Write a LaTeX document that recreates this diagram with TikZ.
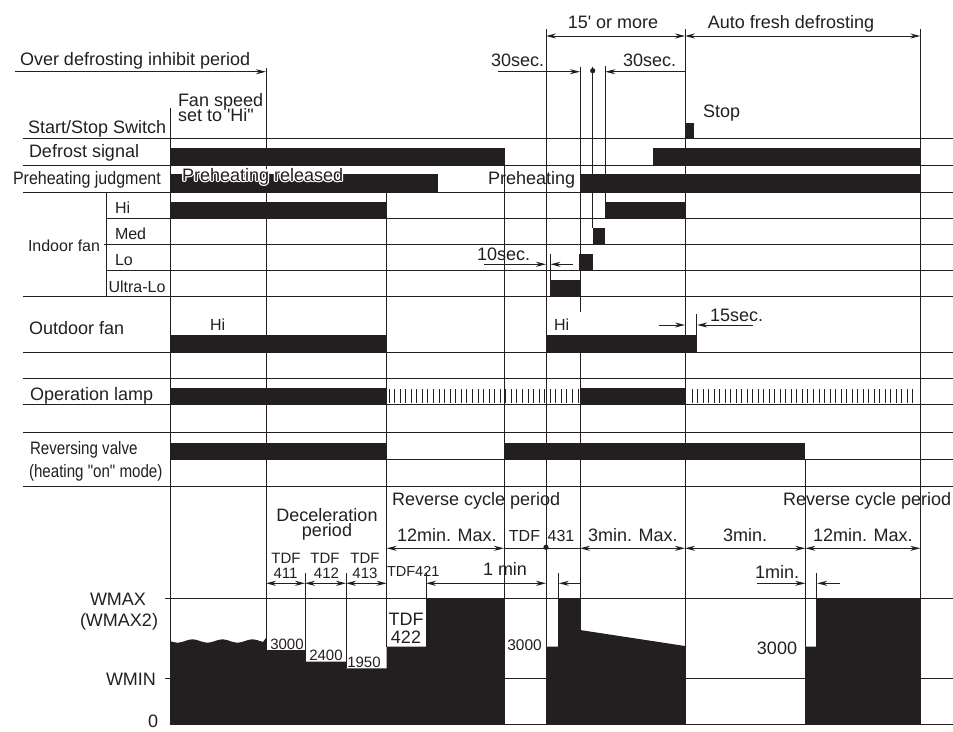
\documentclass[tikz,border=0pt]{standalone}
\usepackage{fontspec}
\setmainfont{Liberation Sans}
\usetikzlibrary{arrows.meta,calc}
\definecolor{ink}{RGB}{35,31,32}
\begin{document}
\begin{tikzpicture}[x=1pt,y=-1pt,
  every node/.style={inner sep=0pt,outer sep=0pt,text=ink},
  lbl/.style={font=\fontsize{18}{20}\selectfont,anchor=base west},
  lblc/.style={font=\fontsize{18}{20}\selectfont,anchor=base},
  sublbl/.style={font=\fontsize{16}{18}\selectfont,anchor=base west},
  numlbl/.style={font=\fontsize{15}{17}\selectfont,anchor=base},
  gline/.style={draw=ink,line width=1pt},
  sigbar/.style={fill=ink},
  arr/.style={draw=ink,line width=1pt,-{Stealth[length=10pt,width=5pt]}},
  darr/.style={draw=ink,line width=1pt,{Stealth[length=10pt,width=5pt]}-{Stealth[length=10pt,width=5pt]}},
  blink/.style={draw=ink,line width=0.9pt}
]
\useasboundingbox (0,0) rectangle (953,731);
% ---------- horizontal row lines
\foreach \y in {138.7,165,192,296.7,352,378.3,404.3,432.7,486}
  \draw[gline] (23,\y) -- (953,\y);
\foreach \y in {218.3,244.3,270.7}
  \draw[gline] (106,\y) -- (953,\y);
\draw[gline] (104,244.3) -- (106,244.3);
\draw[gline] (170,459.3) -- (953,459.3);
\draw[gline] (165,598) -- (953,598);
\draw[gline] (165,678.3) -- (953,678.3);
\draw[gline] (170,724) -- (953,724);
% ---------- vertical time lines
\draw[gline] (106,192) -- (106,296.7);
\draw[gline] (170,107.7) -- (170,724);
\draw[gline] (266,68) -- (266,650);
\draw[gline] (305,573) -- (305,662);
\draw[gline] (346,573) -- (346,668);
\draw[gline] (386.7,192) -- (386.7,647);
\draw[gline] (426,573) -- (426,598);
\draw[gline] (504.3,148.3) -- (504.3,724);
\draw[gline] (546,29) -- (546,724);
\draw[gline] (550,254) -- (550,280);
\draw[gline] (558.3,573) -- (558.3,647);
\draw[gline] (580,66.7) -- (580,312);
\draw[gline] (580,335) -- (580,724);
\draw[gline] (592.7,66.7) -- (592.7,228);
\draw[gline] (605.3,66) -- (605.3,202);
\draw[gline] (685,29) -- (685,724);
\draw[gline] (696.7,314) -- (696.7,352);
\draw[gline] (805.3,459.3) -- (805.3,724);
\draw[gline] (816.7,573) -- (816.7,647);
\draw[gline] (920.3,29) -- (920.3,724);
% ---------- signal bars
\fill[sigbar] (685,122.7) rectangle (694,139);
\fill[sigbar] (170,148.3) rectangle (504.3,165);
\fill[sigbar] (652.7,148.3) rectangle (920.3,165);
\fill[sigbar] (170,174.3) rectangle (438.3,192);
\fill[sigbar] (580,174.3) rectangle (920.3,192);
\fill[sigbar] (170,201.7) rectangle (386.7,218.3);
\fill[sigbar] (605.3,201.7) rectangle (685,218.3);
\fill[sigbar] (592.7,227.7) rectangle (605.3,244.3);
\fill[sigbar] (579.3,254) rectangle (592.7,270.7);
\fill[sigbar] (550,280) rectangle (580,296.7);
\fill[sigbar] (170,335) rectangle (386.7,352);
\fill[sigbar] (546,335) rectangle (696.7,352);
\fill[sigbar] (170,388.3) rectangle (386.7,404.3);
\fill[sigbar] (580,388.3) rectangle (685,404.3);
\fill[sigbar] (170,442.5) rectangle (386.7,459.3);
\fill[sigbar] (504.3,442.5) rectangle (805.3,459.3);
% blinking lamp
\foreach \i in {0,...,34} \draw[blink] ({389+\i*5.56},389) -- ++(0,14);
\foreach \i in {0,...,40} \draw[blink] ({692+\i*5.52},389) -- ++(0,14);
% ---------- compressor frequency profile
\fill[ink] (170,724) -- (170,641)
  -- plot[domain=170:263,samples=60] (\x,{641+1.6*sin((\x-170)*12)})
  -- (266,638) -- (266,650) -- (305,650) -- (305,661.7) -- (346,661.7) -- (346,668.3)
  -- (386.7,668.3) -- (386.7,646.7) -- (426,646.7) -- (426,598) -- (504.3,598) -- (504.3,724) -- cycle;
\fill[ink] (546,724) -- (546,646.7) -- (558.3,646.7) -- (558.3,598) -- (580,598) -- (580,630)
  -- (685,646) -- (685,724) -- cycle;
\fill[ink] (805.3,724) -- (805.3,646.7) -- (816.7,646.7) -- (816.7,598) -- (920.3,598) -- (920.3,724) -- cycle;
% ---------- dimension arrows
\draw[arr] (15,71.7) -- (266,71.7);
\draw[darr] (546,36) -- (685,36);
\draw[darr] (685,36) -- (920.3,36);
\draw[arr] (497.7,71.7) -- (580,71.7);
\draw[arr] (685,71.7) -- (605.3,71.7);
\fill[ink] (592.7,70.7) circle (2.6);
\draw[arr] (484,264.3) -- (546,264.3);
\draw[arr] (573,264.3) -- (550.5,264.3);
\draw[arr] (659,325) -- (685,325);
\draw[arr] (753,325) -- (697.2,325);
\draw[darr] (386.7,548.3) -- (504,548.3);
\draw[gline] (504.3,548.3) -- (580,548.3);
\fill[ink] (546,547.3) circle (2.6);
\draw[darr] (580,548.3) -- (685,548.3);
\draw[darr] (685,548.3) -- (805.3,548.3);
\draw[darr] (805.3,548.3) -- (920.3,548.3);
\draw[darr] (266,583.3) -- (305,583.3);
\draw[darr] (305,583.3) -- (346,583.3);
\draw[darr] (346,583.3) -- (386.7,583.3);
\draw[darr] (426,583.3) -- (546,583.3);
\draw[arr] (580,583.3) -- (558.8,583.3);
\draw[arr] (757,583.3) -- (805.3,583.3);
\draw[arr] (840,583.3) -- (817.2,583.3);
% ---------- texts
\node[lbl] (tOver) at (20,65.5) {Over defrosting inhibit period};
\node[lblc] (tFifteen) at (613,28.5) {15\textquotesingle{} or more};
\node[lblc] (tAuto) at (791,28.5) {Auto fresh defrosting};
\node[lbl] (tThirtyA) at (491,66.5) {30sec.};
\node[lbl] (tThirtyB) at (623,66.5) {30sec.};
\node[lbl] (tFanA) at (178,106.5) {Fan speed};
\node[lbl] (tFanB) at (178,121.5) {set to \textquotesingle Hi\textquotedbl};
\node[lbl] (tSS) at (28,133) {Start/Stop Switch};
\node[lbl] (tStop) at (703,117.5) {Stop};
\node[lbl] (tDef) at (29,157.5) {Defrost signal};
\node[lbl] (tPJ) at (13,184) {\scalebox{0.89}[1]{Preheating judgment}};
\foreach \a in {0,30,...,330}
  \node[lbl,text=white] (tPRhalo\a) at ($(182,181)+(\a:1.4)$) {Preheating released};
\node[lbl] (tPR) at (182,181) {Preheating released};
\node[lbl] (tPre) at (488,184) {Preheating};
\node[sublbl] (tIndoor) at (28,251.5) {Indoor fan};
\node[sublbl] (tHi) at (115,213.3) {Hi};
\node[sublbl] (tMed) at (115,239.7) {Med};
\node[sublbl] (tLo) at (115,265) {Lo};
\node[sublbl] (tUL) at (108.5,292.3) {Ultra-Lo};
\node[lbl] (tTen) at (477,260) {10sec.};
\node[lbl] (tOut) at (29,334.2) {Outdoor fan};
\node[sublbl] (tOutHiA) at (210,330) {Hi};
\node[sublbl] (tOutHiB) at (554,330) {Hi};
\node[lbl] (tFifteenS) at (710,321.7) {15sec.};
\node[lbl] (tOp) at (30,400.8) {Operation lamp};
\node[lbl] (tRevA) at (30,454) {\scalebox{0.84}[1]{Reversing valve}};
\node[lbl] (tRevB) at (29,477) {\scalebox{0.84}[1]{(heating \textquotedbl on\textquotedbl{} mode)}};
\node[lbl] (tRCA) at (392,505.5) {Reverse cycle period};
\node[lbl] (tRCB) at (783,505.5) {Reverse cycle period};
\node[lblc] (tDecA) at (327,521.7) {Deceleration};
\node[lblc] (tDecB) at (327,536.7) {period};
\node[lbl] (tTwelveA) at (397,541.6) {12min. Max.};
\node[font=\fontsize{16}{18}\selectfont,anchor=base] (tTDFc) at (524.5,541.6) {TDF};
\node[font=\fontsize{16}{18}\selectfont,anchor=base] (tFourThree) at (561,541.6) {431};
\node[lbl] (tThreeMax) at (588,541.6) {3min. Max.};
\node[lbl] (tThree) at (723,541.6) {3min.};
\node[lbl] (tTwelveB) at (813,541.6) {12min. Max.};
\node[numlbl] (tTDFa) at (286,563.3) {TDF};
\node[numlbl] (tFourOneOne) at (285.5,578) {411};
\node[numlbl] (tTDFb) at (325,563.3) {TDF};
\node[numlbl] (tFourOneTwo) at (326.5,578) {412};
\node[numlbl] (tTDFd) at (365,563.3) {TDF};
\node[numlbl] (tFourOneThree) at (365,578) {413};
\node[font=\fontsize{14.5}{16}\selectfont,anchor=base west] (tTDFfour) at (387,576.7) {TDF421};
\node[lbl] (tOneMinA) at (483,575) {1 min};
\node[lbl] (tOneMinB) at (755,578) {1min.};
\node[font=\fontsize{18}{20}\selectfont,anchor=base] (tTDFe) at (406,625) {TDF};
\node[font=\fontsize{18}{20}\selectfont,anchor=base] (tFourTwoTwo) at (406,643.3) {422};
\node[numlbl] (tThreeK) at (287,649.3) {3000};
\node[numlbl] (tTwoFour) at (326,660) {2400};
\node[numlbl] (tOneNine) at (364,667.3) {1950};
\node[font=\fontsize{15.5}{17}\selectfont,anchor=base] (tThreeKb) at (524.5,650) {3000};
\node[font=\fontsize{18}{20}\selectfont,anchor=base] (tThreeKc) at (777,654.7) {3000};
\node[lbl] (tWmax) at (90,605) {WMAX};
\node[lbl] (tWmaxTwo) at (80,626.5) {(WMAX2)};
\node[lbl] (tWmin) at (106,685) {WMIN};
\node[lbl] (tZero) at (148,727.5) {0};
\end{tikzpicture}
\end{document}
